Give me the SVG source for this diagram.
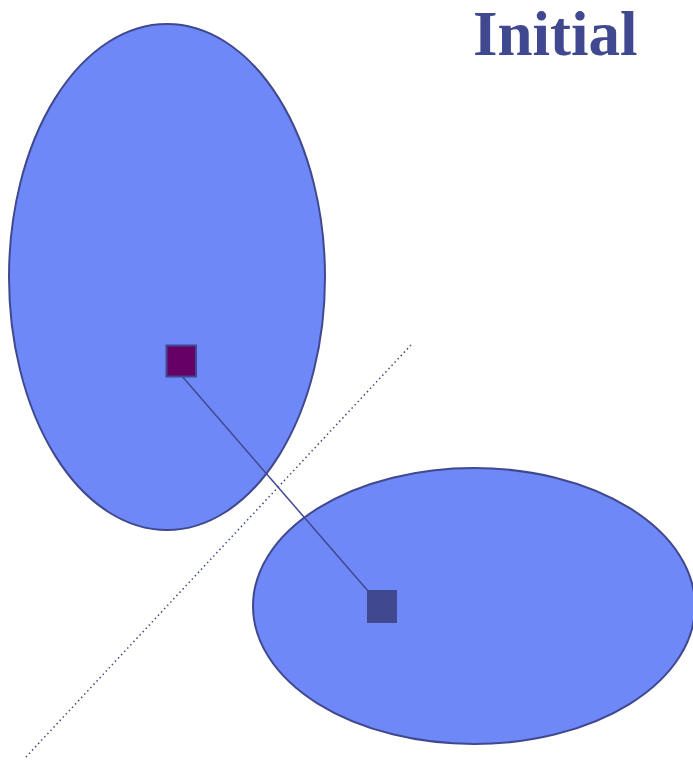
<svg xmlns="http://www.w3.org/2000/svg" width="693" height="760" viewBox="0 0 693 760">
<style>
.cl{fill:#6f88f7;stroke:#404890;stroke-width:2}
.title{font-family:"Liberation Serif",serif;font-weight:bold;font-size:63px;fill:#404890}
</style>
<rect width="693" height="760" fill="#ffffff"/>
<text class="title" x="473" y="55">Initial</text>
<g id="cluster1"><ellipse class="cl" cx="167" cy="277" rx="158" ry="253"/></g>
<g id="cluster2"><ellipse class="cl" cx="474" cy="606" rx="221" ry="138"/></g>
<g id="connectors">
<line x1="411" y1="345" x2="25" y2="758" stroke="#404890" stroke-width="1.5" stroke-dasharray="1.5 3"/>
<line x1="181" y1="375" x2="368" y2="591" stroke="#404890" stroke-width="1.5"/>
</g>
<g id="centroid1"><rect x="166.5" y="345.5" width="29.5" height="31" fill="#660066" stroke="#404890" stroke-width="2"/></g>
<g id="centroid2"><rect x="367" y="590" width="30" height="33" fill="#404890"/></g>
</svg>
